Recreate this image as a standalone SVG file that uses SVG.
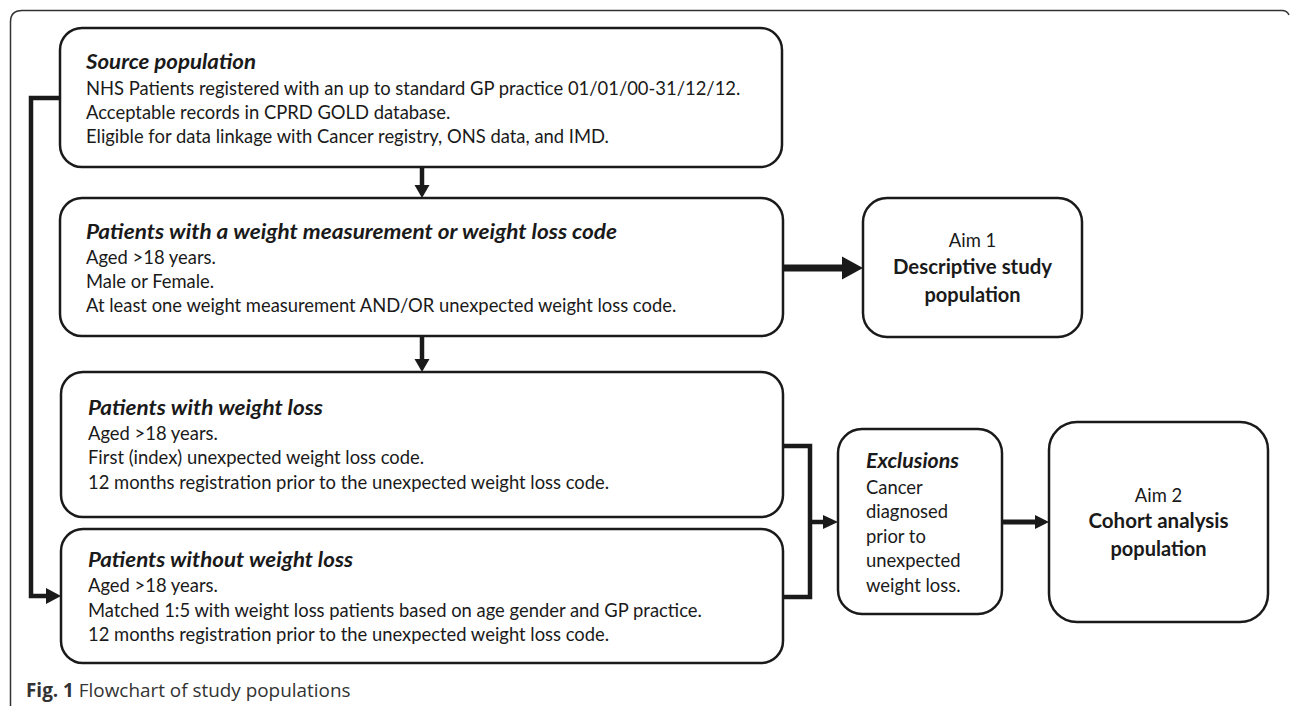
<svg xmlns="http://www.w3.org/2000/svg" width="1290" height="706" viewBox="0 0 1290 706">
<style>
  .box { fill: #ffffff; stroke: #1a1a1a; stroke-width: 2.5; }
  .t { font-family: Lato, "Open Sans", sans-serif; font-size: 18.4px; fill: #1a1a1a; }
  .h { font-weight: bold; font-style: italic; font-size: 20.5px; }
  .b { font-weight: bold; font-size: 20px; }
  .c { text-anchor: middle; }
  .line { fill: none; stroke: #1a1a1a; stroke-linejoin: miter; }
  .head { fill: #1a1a1a; }
  .cap { font-family: "Open Sans", sans-serif; font-size: 18.9px; fill: #333333; }
</style>
<rect width="1290" height="706" fill="#ffffff"/>
<path d="M10.5,706 V22 Q10.5,10.5 22,10.5 H1282 Q1287,10.5 1289,15" fill="none" stroke="#333333" stroke-width="1.5"/>

<g id="connectors">
  <line class="line" x1="422" y1="167" x2="422" y2="186" stroke-width="4.5"/>
  <polygon class="head" points="414.5,185 429.5,185 422,198"/>
  <line class="line" x1="422" y1="336" x2="422" y2="360" stroke-width="4.5"/>
  <polygon class="head" points="414.5,359 429.5,359 422,372"/>
  <polyline class="line" points="60,98 31,98 31,596 48,596" stroke-width="4.5"/>
  <polygon class="head" points="46,588 46,604 61,596"/>
  <line class="line" x1="783" y1="268" x2="844" y2="268" stroke-width="7"/>
  <polygon class="head" points="842,256.5 842,279.5 863,268"/>
  <polyline class="line" points="783,446 810,446 810,597 783,597" stroke-width="4.5"/>
  <line class="line" x1="810" y1="522" x2="825" y2="522" stroke-width="4.5"/>
  <polygon class="head" points="823,515 823,529 838,522"/>
  <line class="line" x1="1002" y1="522" x2="1037" y2="522" stroke-width="5"/>
  <polygon class="head" points="1035,515 1035,529 1049,522"/>
</g>

<g id="source">
  <rect class="box" x="60" y="28" width="722" height="139" rx="22"/>
  <text class="t h" x="86" y="69" textLength="170" lengthAdjust="spacingAndGlyphs">Source population</text>
  <text class="t" x="86" y="95">NHS Patients registered with an up to standard GP practice 01/01/00-31/12/12.</text>
  <text class="t" x="86" y="119">Acceptable records in CPRD GOLD database.</text>
  <text class="t" x="86" y="143">Eligible for data linkage with Cancer registry, ONS data, and IMD.</text>
</g>

<g id="weight-measurement">
  <rect class="box" x="60" y="198" width="723" height="138" rx="22"/>
  <text class="t h" x="86" y="239" textLength="531" lengthAdjust="spacingAndGlyphs">Patients with a weight measurement or weight loss code</text>
  <text class="t" x="86" y="264">Aged &gt;18 years.</text>
  <text class="t" x="86" y="288">Male or Female.</text>
  <text class="t" x="86" y="312">At least one weight measurement AND/OR unexpected weight loss code.</text>
</g>

<g id="aim1">
  <rect class="box" x="863" y="198" width="219" height="139" rx="24"/>
  <text class="t c" x="972.5" y="247">Aim 1</text>
  <text class="t b c" x="972.5" y="274" textLength="159" lengthAdjust="spacingAndGlyphs">Descriptive study</text>
  <text class="t b c" x="972.5" y="302">population</text>
</g>

<g id="with-weight-loss">
  <rect class="box" x="61" y="372" width="722" height="145" rx="22"/>
  <text class="t h" x="88" y="415" textLength="235" lengthAdjust="spacingAndGlyphs">Patients with weight loss</text>
  <text class="t" x="88" y="440">Aged &gt;18 years.</text>
  <text class="t" x="88" y="464">First (index) unexpected weight loss code.</text>
  <text class="t" x="88" y="489">12 months registration prior to the unexpected weight loss code.</text>
</g>

<g id="without-weight-loss">
  <rect class="box" x="61" y="529" width="722" height="134" rx="22"/>
  <text class="t h" x="88" y="567" textLength="265" lengthAdjust="spacingAndGlyphs">Patients without weight loss</text>
  <text class="t" x="88" y="592">Aged &gt;18 years.</text>
  <text class="t" x="88" y="617">Matched 1:5 with weight loss patients based on age gender and GP practice.</text>
  <text class="t" x="88" y="641">12 months registration prior to the unexpected weight loss code.</text>
</g>

<g id="exclusions">
  <rect class="box" x="838" y="429" width="164" height="185" rx="24"/>
  <text class="t h" x="866" y="468" textLength="93" lengthAdjust="spacingAndGlyphs">Exclusions</text>
  <text class="t" x="866" y="494">Cancer</text>
  <text class="t" x="866" y="518">diagnosed</text>
  <text class="t" x="866" y="543">prior to</text>
  <text class="t" x="866" y="567">unexpected</text>
  <text class="t" x="866" y="592">weight loss.</text>
</g>

<g id="aim2">
  <rect class="box" x="1049" y="422" width="219" height="200" rx="28"/>
  <text class="t c" x="1158.5" y="502">Aim 2</text>
  <text class="t b c" x="1158.5" y="528" textLength="140" lengthAdjust="spacingAndGlyphs">Cohort analysis</text>
  <text class="t b c" x="1158.5" y="556">population</text>
</g>

<text class="cap" x="26" y="697"><tspan font-weight="bold">Fig. 1</tspan> Flowchart of study populations</text>
</svg>
